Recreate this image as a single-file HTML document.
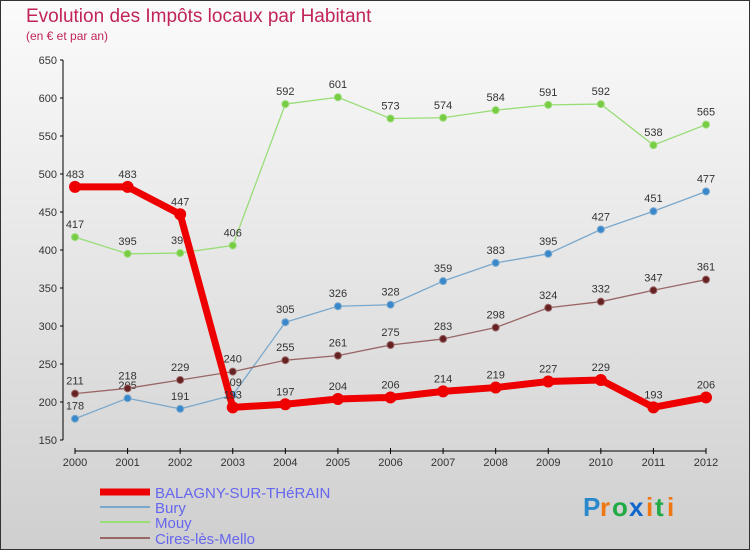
<!DOCTYPE html>
<html><head><meta charset="utf-8"><style>
body{margin:0}
#c{width:750px;height:550px;position:relative;overflow:hidden;font-family:"Liberation Sans","DejaVu Sans",sans-serif;}
</style></head><body>
<div id="c">
<svg width="750" height="550" xmlns="http://www.w3.org/2000/svg" id="svg">
<defs><linearGradient id="bg" x1="0" y1="0" x2="0" y2="1"><stop offset="0" stop-color="#fbfbfb"/><stop offset="1" stop-color="#cfcfcf"/></linearGradient></defs>
<rect x="0.5" y="0.5" width="749" height="549" fill="url(#bg)" stroke="#333"/>
<text x="26" y="22" font-size="19" fill="#c0245a">Evolution des Impôts locaux par Habitant</text>
<text x="26" y="40" font-size="12" fill="#c0245a">(en € et par an)</text>
<g id="grid"></g><g id="axes"></g><g id="series"></g>
<g>
<g><line x1="100" y1="492" x2="150" y2="492" stroke="#ee0000" stroke-width="7"/><text x="155" y="498" font-size="15" fill="#6666ee">BALAGNY-SUR-THéRAIN</text></g>
<g><line x1="100" y1="507" x2="150" y2="507" stroke="#7aa8cc" stroke-width="2"/><text x="155" y="513" font-size="15" fill="#6666ee">Bury</text></g>
<g><line x1="100" y1="522" x2="150" y2="522" stroke="#99dd77" stroke-width="2"/><text x="155" y="528" font-size="15" fill="#6666ee">Mouy</text></g>
<g><line x1="100" y1="538" x2="150" y2="538" stroke="#996666" stroke-width="2"/><text x="155" y="544" font-size="15" fill="#6666ee">Cires-lès-Mello</text></g>
</g>
<g font-size="26" font-weight="bold">
<text x="583" y="516" fill="#2a88cc">P</text><text x="600" y="516" fill="#ee7711">r</text><text x="612" y="516" fill="#22aa44">o</text><text x="629" y="516" fill="#1166cc">x</text><text x="646" y="516" fill="#ee7711">i</text><text x="655" y="516" fill="#22aa44">t</text><text x="667" y="516" fill="#ee7711">i</text>
</g>
</svg>
<script>
const years=[2000,2001,2002,2003,2004,2005,2006,2007,2008,2009,2010,2011,2012];
const yTicks=[150,200,250,300,350,400,450,500,550,600,650];
const balagny=[483,483,447,193,197,204,206,214,219,227,229,193,206];
const bury=[178,205,191,209,305,326,328,359,383,395,427,451,477];
const mouy=[417,395,396,406,592,601,573,574,584,591,592,538,565];
const cires=[211,218,229,240,255,261,275,283,298,324,332,347,361];
const NS="http://www.w3.org/2000/svg";
function X(i){return 75+i*(706-75)/12;}
function Y(v){return 440-(v-150)*380/500;}
function mk(t,a,p){const e=document.createElementNS(NS,t);for(const k in a)e.setAttribute(k,a[k]);p.appendChild(e);return e;}
const axes=document.getElementById('axes');
mk('line',{x1:63,y1:Y(650),x2:63,y2:Y(150),stroke:'#000'},axes);
yTicks.forEach(v=>{
 mk('line',{x1:60,y1:Y(v),x2:63,y2:Y(v),stroke:'#000'},axes);
 const t=mk('text',{x:57,y:Y(v)+4,'font-size':11,'text-anchor':'end',fill:'#333'},axes);t.textContent=v;
 
 
});
mk('line',{x1:75,y1:451,x2:706,y2:451,stroke:'#000'},axes);
years.forEach((y,i)=>{
 mk('line',{x1:X(i),y1:448,x2:X(i),y2:454,stroke:'#000'},axes);
 const t=mk('text',{x:X(i),y:466,'font-size':11,'text-anchor':'middle',fill:'#333'},axes);t.textContent=y;
 
 
});
const S=document.getElementById('series');
function draw(data,color,w,r,fill,name){
 const g=mk('g',{},S);
 
 
 mk('polyline',{points:data.map((v,i)=>X(i)+','+Y(v)).join(' '),fill:'none',stroke:color,'stroke-width':w,'stroke-linejoin':'round'},g);
 data.forEach((v,i)=>{
  const c=mk('circle',{cx:X(i),cy:Y(v),r:r,fill:fill,stroke:color,'stroke-width':1},g);
  
  
  const t=mk('text',{x:X(i),y:Y(v)-9,'font-size':11,'text-anchor':'middle',fill:'#333'},g);t.textContent=v;
  
  
 });
}
draw(mouy,'#99dd77',1.3,3.5,'#77cc44','series-mouy');
draw(bury,'#7aa8cc',1.3,3.5,'#3a88cc','series-bury');
draw(cires,'#996666',1.3,3.5,'#662222','series-cires');
draw(balagny,'#ee0000',7,5.5,'#ee0000','series-balagny');
</script>
</div>
</body></html>
